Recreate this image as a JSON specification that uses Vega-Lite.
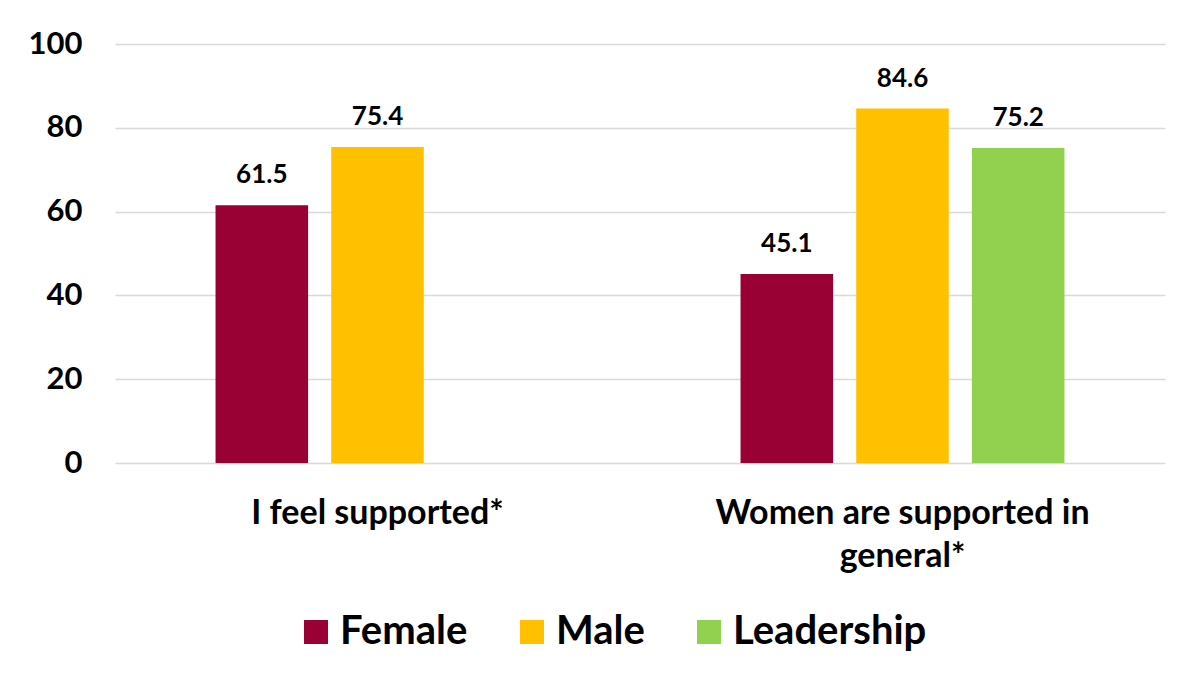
{
  "$schema": "https://vega.github.io/schema/vega-lite/v6.json",
  "width": 1050,
  "height": 419,
  "autosize": "none",
  "padding": {"left": 115, "top": 44, "right": 22, "bottom": 212},
  "background": "white",
  "data": {"values": [
    {"item": "I feel supported*", "group": "Female", "value": 61.5},
    {"item": "I feel supported*", "group": "Male", "value": 75.4},
    {"item": "Women are supported in general*", "group": "Female", "value": 45.1},
    {"item": "Women are supported in general*", "group": "Male", "value": 84.6},
    {"item": "Women are supported in general*", "group": "Leadership", "value": 75.2}
  ]},
  "encoding": {
    "x": {"field": "item", "type": "nominal", "sort": null,
      "scale": {"paddingInner": 0.383, "paddingOuter": 0.1915},
      "axis": {"title": null, "labelAngle": 0, "ticks": false, "domain": false,
        "labelFont": "Lato", "labelFontWeight": "bold", "labelFontSize": 34, "labelColor": "black",
        "labelPadding": 33, "labelLineHeight": 43, "labelLimit": 0, "labelOverlap": false,
        "labelExpr": "datum.value == 'Women are supported in general*' ? ['Women are supported in', 'general*'] : datum.value"}},
    "xOffset": {"field": "group", "type": "nominal", "sort": ["Female", "Male", "Leadership"],
      "scale": {"domain": ["Female", "Male", "Leadership"], "paddingInner": 0.2, "paddingOuter": 0}},
    "y": {"field": "value", "type": "quantitative",
      "scale": {"domain": [0, 100]},
      "axis": {"title": null, "values": [0, 20, 40, 60, 80, 100], "ticks": false, "domain": false,
        "grid": true, "gridColor": "#d9d9d9", "gridWidth": 1.5, "labelOverlap": false, "labelFlush": false, "labelBound": false,
        "labelFont": "Lato", "labelFontWeight": "bold", "labelFontSize": 31, "labelColor": "black", "labelPadding": 33}}
  },
  "layer": [
    {"mark": {"type": "bar"},
      "encoding": {"color": {"field": "group", "type": "nominal",
        "scale": {"domain": ["Female", "Male", "Leadership"], "range": ["#990033", "#FFC000", "#92D050"]},
        "legend": {"title": null, "orient": "none", "legendX": 181, "legendY": 568, "direction": "horizontal",
          "symbolType": "square", "symbolSize": 576, "symbolStrokeWidth": 0, "symbolOpacity": 1,
          "labelFont": "Lato", "labelFontWeight": "bold", "labelFontSize": 40, "labelColor": "black", "labelLimit": 0,
          "columnPadding": 44, "labelOffset": 4}}}},
    {"mark": {"type": "text", "baseline": "bottom", "dy": -17, "font": "Lato", "fontWeight": "bold", "fontSize": 26, "color": "black"},
      "encoding": {"text": {"field": "value", "type": "quantitative", "format": ".1f"}}}
  ],
  "config": {"view": {"stroke": null}}
}
